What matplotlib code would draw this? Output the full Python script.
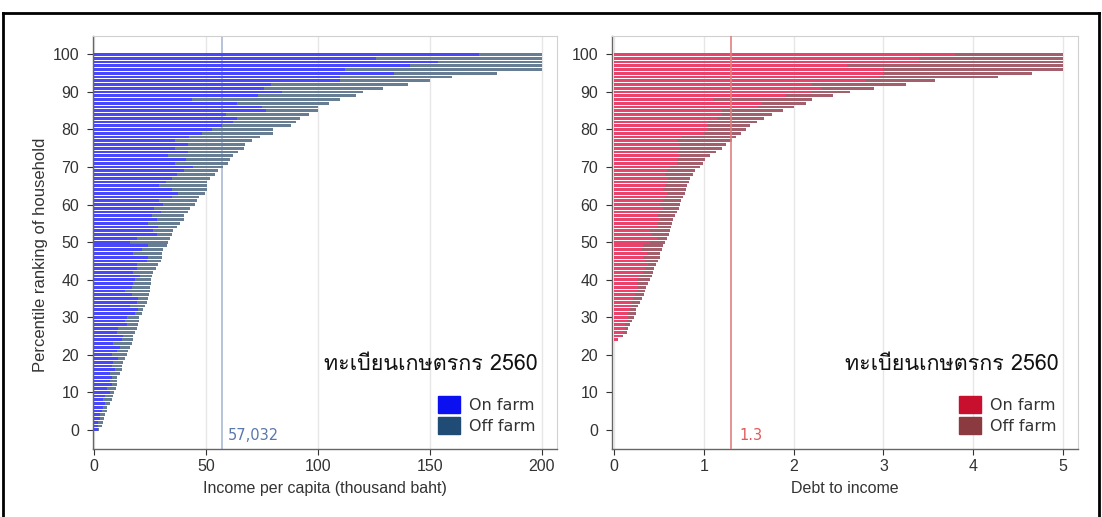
import numpy as np
import matplotlib
matplotlib.use("Agg")
import matplotlib.pyplot as plt
from matplotlib.patches import Patch
from matplotlib.lines import Line2D
from matplotlib import font_manager
from matplotlib.ft2font import FT2Font

# ---------------- data ----------------
percentiles = list(range(0, 101))

income_on_farm = [
    1.9, 2.0, 2.0, 2.7, 2.7, 3.4, 4.2, 4.9, 4.2, 4.9,
    7.1, 5.7, 7.9, 7.1, 7.9, 7.1, 9.4, 7.9, 8.6, 10.9,
    7.9, 10.1, 11.6, 8.6, 12.3, 13.0, 10.1, 10.9, 14.6, 13.8,
    14.6, 18.3, 19.8, 16.0, 19.0, 19.8, 16.8, 13.8, 16.8, 17.6,
    18.3, 20.5, 17.6, 19.0, 19.0, 23.5, 24.3, 17.6, 21.3, 24.0,
    16.0, 19.0, 28.0, 26.5, 28.7, 24.3, 28.0, 25.7, 30.0, 27.0,
    31.0, 29.0, 35.0, 37.6, 34.7, 29.0, 32.0, 35.0, 37.0, 40.0,
    44.0, 36.0, 41.0, 33.0, 42.0, 36.0, 42.0, 36.0, 42.5, 48.0,
    52.5, 57.0, 62.0, 64.0, 59.0, 77.0, 75.0, 64.0, 43.6, 73.0,
    84.0, 76.0, 79.0, 110.0, 110.0, 134.0, 112.0, 141.0, 153.6, 126.0,
    172.0]

income_total = [
    2.4, 3.4, 3.9, 4.5, 4.9, 5.7, 5.9, 7.1, 7.9, 8.6,
    8.9, 9.8, 10.1, 10.1, 10.4, 11.6, 12.3, 12.6, 13.1, 13.8,
    14.9, 15.3, 16.0, 16.8, 17.6, 17.6, 18.3, 19.0, 19.8, 20.2,
    20.2, 21.3, 22.0, 22.8, 23.5, 24.3, 24.7, 25.0, 25.0, 25.3,
    25.3, 25.7, 26.5, 27.7, 28.7, 30.0, 30.2, 30.2, 31.0, 32.4,
    33.2, 33.9, 34.7, 35.4, 37.2, 38.4, 40.3, 40.3, 42.0, 42.9,
    45.0, 45.8, 47.0, 49.5, 50.3, 50.3, 50.6, 51.8, 54.0, 55.5,
    57.7, 60.0, 60.7, 62.0, 64.3, 67.0, 67.5, 70.5, 74.0, 80.0,
    80.0, 88.0, 90.0, 92.0, 96.0, 100.0, 100.0, 105.0, 110.0, 117.0,
    120.0, 129.0, 140.0, 150.0, 160.0, 180.0, 200.0, 200.0, 200.0, 200.0,
    200.0]

debt_on_farm = [
    0, 0, 0, 0, 0, 0, 0, 0, 0, 0,
    0, 0, 0, 0, 0, 0, 0, 0, 0, 0,
    0, 0, 0, 0, 0.03, 0.085, 0.104, 0.122, 0.122, 0.141,
    0.16, 0.16, 0.178, 0.197, 0.197, 0.215, 0.234, 0.252, 0.271, 0.252,
    0.271, 0.29, 0.327, 0.345, 0.382, 0.345, 0.327, 0.364, 0.308, 0.327,
    0.401, 0.475, 0.42, 0.401, 0.475, 0.494, 0.512, 0.494, 0.512, 0.549,
    0.512, 0.549, 0.568, 0.586, 0.549, 0.568, 0.586, 0.605, 0.568, 0.586,
    0.624, 0.698, 0.698, 0.735, 0.716, 0.735, 0.72, 0.70, 0.75, 1.0,
    1.05, 1.05, 1.05, 1.15, 1.2, 1.2, 1.6, 1.65, 1.1, 1.9,
    2.2, 2.3, 2.2, 2.8, 2.95, 3.0, 3.0, 2.6, 3.4, 3.4,
    3.8]

debt_total = [
    0, 0, 0, 0, 0, 0, 0, 0, 0, 0,
    0, 0, 0, 0, 0, 0, 0, 0, 0, 0,
    0, 0, 0, 0, 0.05, 0.10, 0.14, 0.16, 0.18, 0.20,
    0.22, 0.24, 0.25, 0.27, 0.29, 0.31, 0.33, 0.35, 0.36, 0.38,
    0.40, 0.42, 0.43, 0.45, 0.47, 0.49, 0.51, 0.51, 0.53, 0.55,
    0.57, 0.59, 0.61, 0.62, 0.64, 0.65, 0.66, 0.68, 0.70, 0.72,
    0.73, 0.75, 0.77, 0.79, 0.80, 0.81, 0.83, 0.85, 0.88, 0.90,
    0.96, 0.995, 1.01, 1.07, 1.14, 1.20, 1.25, 1.31, 1.36, 1.42,
    1.47, 1.51, 1.59, 1.67, 1.76, 1.88, 2.0, 2.14, 2.20, 2.44,
    2.63, 2.89, 3.25, 3.57, 4.28, 4.66, 5.0, 5.0, 5.0, 5.0,
    5.0]

income_mean = 57.032
debt_mean = 1.3
income_mean_label = "57,032"
debt_mean_label = "1.3"
legend_labels = ["On farm", "Off farm"]
title_text = "ทะเบียนเกษตรกร 2560"
income_xticks = [0, 50, 100, 150, 200]
debt_xticks = [0, 1, 2, 3, 4, 5]
yticks = list(range(0, 101, 10))

# ---------------- fonts ----------------
def find_thai_font():
    seen = set()
    for f in font_manager.fontManager.ttflist:
        if f.fname in seen:
            continue
        seen.add(f.fname)
        try:
            ft = FT2Font(f.fname)
            if ft.get_char_index(ord("ท")) and ft.get_char_index(ord("เ")):
                return f.name
        except Exception:
            pass
    return None

thai = find_thai_font()
thai_family = [thai, "DejaVu Sans"] if thai else ["DejaVu Sans"]

plt.rcParams["font.family"] = ["Liberation Sans", "DejaVu Sans"]

fig = plt.figure(figsize=(11.02, 5.17), dpi=100)
W, H = 1102, 517

def axes_rect(x0, x1, ytop, ybot):
    return [x0 / W, 1 - ybot / H, (x1 - x0) / W, (ybot - ytop) / H]

axL = fig.add_axes(axes_rect(93, 557, 36, 449))
axR = fig.add_axes(axes_rect(612, 1078, 36, 449))

bar_h = 0.74

def style(ax, xlim, xticks):
    ax.set_xlim(*xlim)
    ax.set_ylim(-5.1, 104.9)
    ax.set_xticks(xticks)
    ax.set_yticks(yticks)
    ax.tick_params(axis="both", labelsize=11.5, colors="#333333",
                   length=4, width=0.8, labelcolor="#333333")
    ax.tick_params(axis="y", pad=6)
    for s in ["top", "right"]:
        ax.spines[s].set_color("#d0d0d0")
        ax.spines[s].set_linewidth(0.8)
    for s in ["left", "bottom"]:
        ax.spines[s].set_color("#666666")
        ax.spines[s].set_linewidth(1.0)
    ax.grid(axis="x", color="#e6e6e6", linewidth=1.0)
    ax.set_axisbelow(True)

# ---- left panel ----
inc_on = np.array(income_on_farm)
inc_tot = np.array(income_total)
axL.barh(percentiles, inc_on, height=bar_h, color="#4848fa", linewidth=0, zorder=2)
axL.barh(percentiles, inc_tot - inc_on, left=inc_on, height=bar_h,
         color="#667d93", linewidth=0, zorder=2)
style(axL, (-0.45, 206.7), income_xticks)
axL.axvline(income_mean, color="#a9b9d6", linewidth=1.2, zorder=1)
axL.text(income_mean + 2.7, -1.5, income_mean_label, color="#5b78aa",
         fontsize=10.5, family="DejaVu Sans", va="center", ha="left")
axL.set_xlabel("Income per capita (thousand baht)", fontsize=11.5,
               color="#333333", labelpad=5)
axL.set_ylabel("Percentile ranking of household", fontsize=12, color="#333333")
axL.yaxis.set_label_coords(-0.098, 0.47)
axL.text(0.958, 0.205, title_text, transform=axL.transAxes, ha="right",
         va="center", fontsize=15.5, family=thai_family, color="#111111")
legL = axL.legend(handles=[Patch(facecolor="#0a10f0", edgecolor="#0a10f0"),
                           Patch(facecolor="#1f4b74", edgecolor="#1f4b74")],
                  labels=legend_labels, loc="lower right",
                  bbox_to_anchor=(0.968, 0.02), frameon=False,
                  prop={"family": "DejaVu Sans", "size": 11.5},
                  handlelength=1.4, handleheight=1.25, handletextpad=0.55,
                  labelspacing=0.3, borderaxespad=0)
for t in legL.get_texts():
    t.set_color("#333333")

# ---- right panel ----
d_on = np.array(debt_on_farm)
d_tot = np.array(debt_total)
axR.barh(percentiles, d_on, height=bar_h, color="#e8436a", linewidth=0, zorder=2)
axR.barh(percentiles, d_tot - d_on, left=d_on, height=bar_h,
         color="#a3606c", linewidth=0, zorder=2)
style(axR, (-0.022, 5.167), debt_xticks)
axR.axvline(debt_mean, color="#e08080", linewidth=1.2, zorder=3)
axR.text(debt_mean + 0.1, -1.5, debt_mean_label, color="#e05a5a",
         fontsize=10.5, family="DejaVu Sans", va="center", ha="left")
axR.set_xlabel("Debt to income", fontsize=11.5, color="#333333", labelpad=5)
axR.text(0.958, 0.205, title_text, transform=axR.transAxes, ha="right",
         va="center", fontsize=15.5, family=thai_family, color="#111111")
legR = axR.legend(handles=[Patch(facecolor="#c8102e", edgecolor="#c8102e"),
                           Patch(facecolor="#8b3a40", edgecolor="#8b3a40")],
                  labels=legend_labels, loc="lower right",
                  bbox_to_anchor=(0.968, 0.02), frameon=False,
                  prop={"family": "DejaVu Sans", "size": 11.5},
                  handlelength=1.4, handleheight=1.25, handletextpad=0.55,
                  labelspacing=0.3, borderaxespad=0)
for t in legR.get_texts():
    t.set_color("#333333")

# ---- outer black border ----
top = 1 - 13 / H
lw = 2.0
fig.add_artist(Line2D([3 / W, 3 / W], [0, top], transform=fig.transFigure,
                      color="black", linewidth=lw))
fig.add_artist(Line2D([3 / W, 1099 / W], [top, top], transform=fig.transFigure,
                      color="black", linewidth=lw))
fig.add_artist(Line2D([1099 / W, 1099 / W], [0, top], transform=fig.transFigure,
                      color="black", linewidth=lw))

fig.savefig("out.png", dpi=100, facecolor="white")
